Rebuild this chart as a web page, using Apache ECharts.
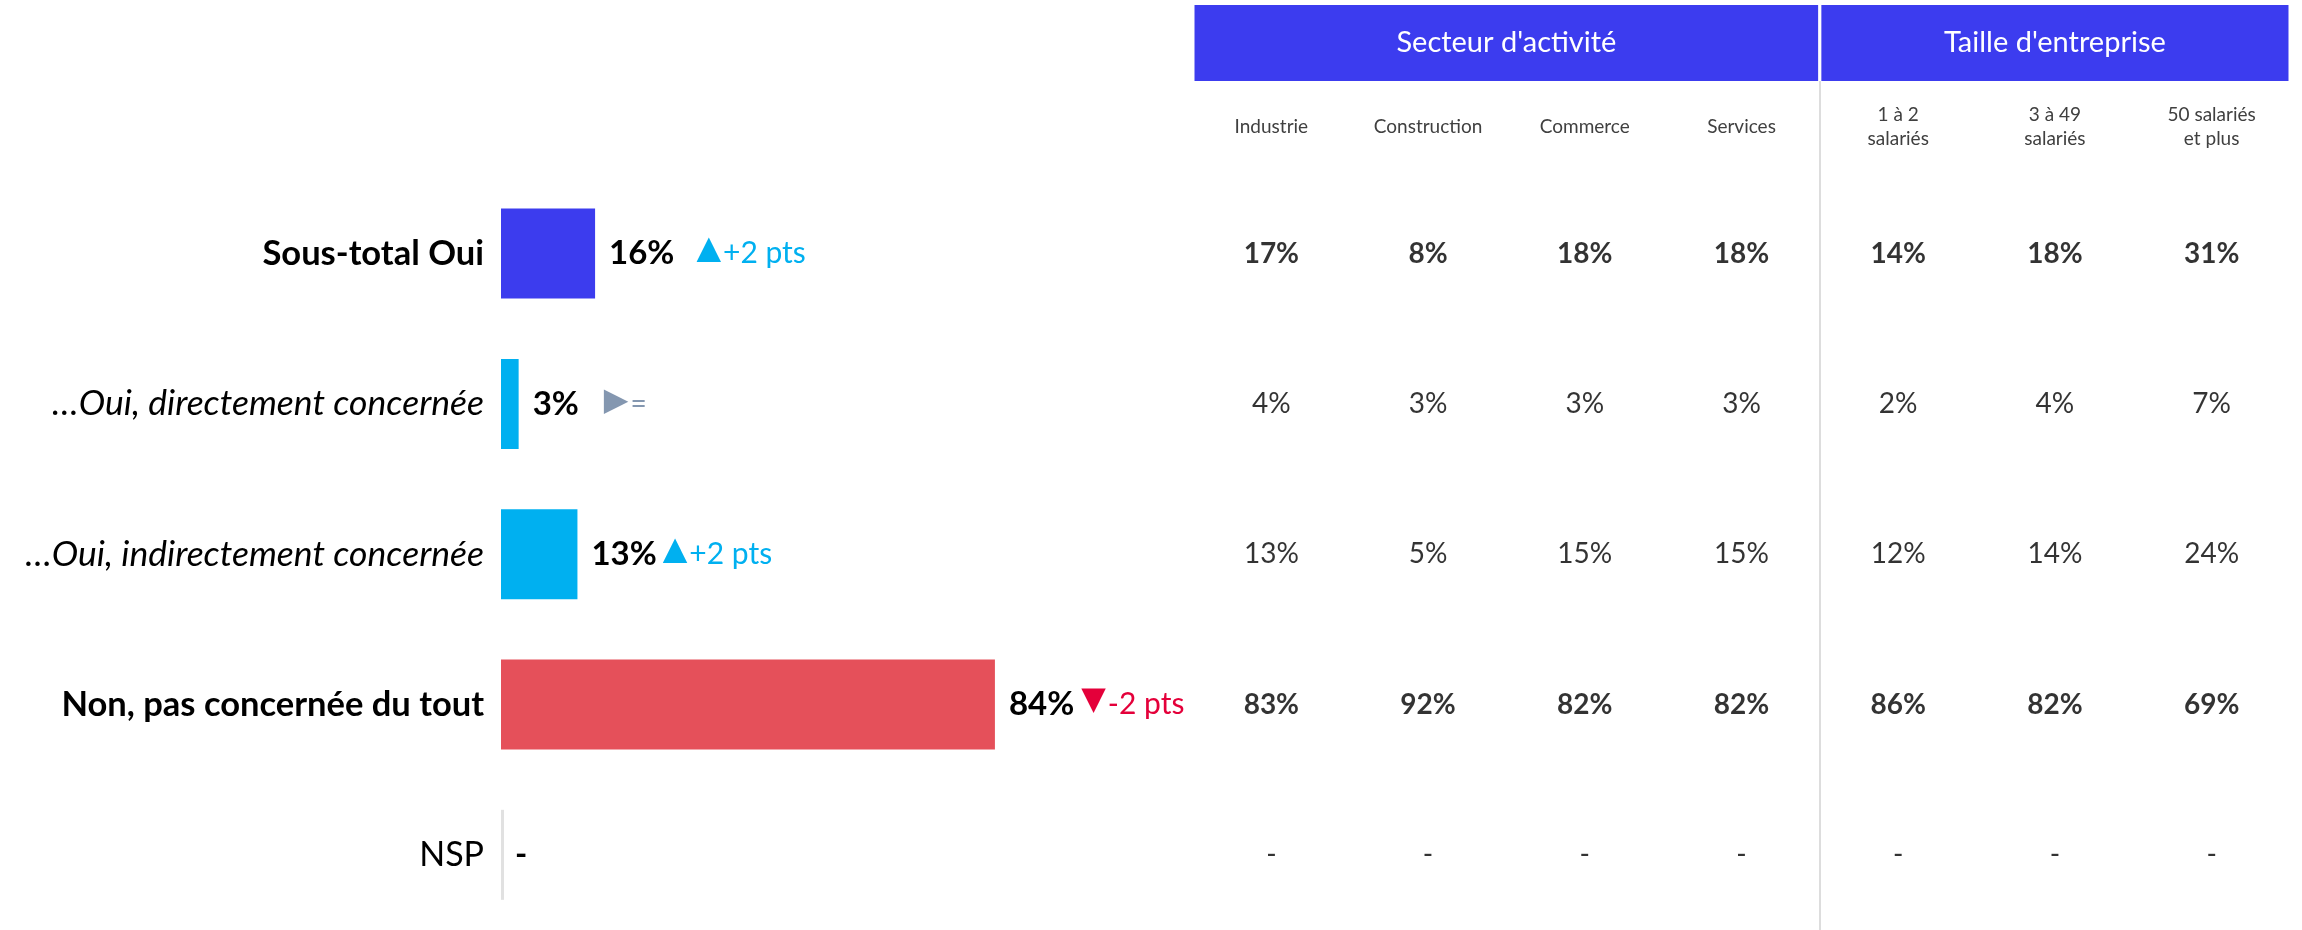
<!DOCTYPE html>
<html>
<head>
<meta charset="utf-8">
<script src="https://cdn.jsdelivr.net/npm/echarts@6/dist/echarts.min.js"></script>
<style>
    html, body { margin: 0; padding: 0; background: #fff; }
    #chart { width: 2302px; height: 930px; }
</style>
</head>
<body>
<div id="chart"></div>
<script>
// rows of the left bar chart
var rowLabels = ['Sous-total Oui', '…Oui, directement concernée', '…Oui, indirectement concernée', 'Non, pas concernée du tout', 'NSP'];
var totalValues = [16, 3, 13, 84, null];
var trendDir = ['up', 'flat', 'up', 'down', null];
var trendText = ['+2 pts', '=', '+2 pts', '-2 pts', ''];

// breakdown table
var groupNames = ["Secteur d'activité", "Taille d'entreprise"];
var groupSizes = [4, 3];
var columns = ['Industrie', 'Construction', 'Commerce', 'Services', '1 à 2\nsalariés', '3 à 49\nsalariés', '50 salariés\net plus'];
var sousTotalOui = [17, 8, 18, 18, 14, 18, 31];
var ouiDirect = [4, 3, 3, 3, 2, 4, 7];
var ouiIndirect = [13, 5, 15, 15, 12, 14, 24];
var nonPasDuTout = [83, 92, 82, 82, 86, 82, 69];
var nsp = [null, null, null, null, null, null, null];

// styling
var barColors = ['#3C3CEE', '#00B0F0', '#00B0F0', '#E5505A', '#D9D9D9'];
var rowStyle = ['b', 'i', 'i', 'b', 'n'];
var annotGap = [22, 25, 6, 7, 0];
var arrows = { up: '▲', down: '▼', flat: '▶' };
var FONT = 'Lato';

var tableRows = [sousTotalOui, ouiDirect, ouiIndirect, nonPasDuTout, nsp];

var gridTop = 178.4;
var gridHeight = 756;

var chart = echarts.init(document.getElementById('chart'));

var barRich = {
    v: { fontFamily: FONT, fontSize: 33, fontWeight: 'bold', color: '#000' },
    up: { fontFamily: 'DejaVu Sans', fontSize: 32, color: '#00B0F0', padding: [0, 0, 8, 0] },
    down: { fontFamily: 'DejaVu Sans', fontSize: 32, color: '#E4003A', padding: [0, 0, 8, 0] },
    flat: { fontFamily: 'DejaVu Sans', fontSize: 32, color: '#8497B0', padding: [0, 0, 4, 0] },
    tup: { fontFamily: FONT, fontSize: 30, color: '#00B0F0', padding: [0, 0, 0, 2] },
    tdown: { fontFamily: FONT, fontSize: 30, color: '#E4003A', padding: [0, 0, 0, 2] },
    tflat: { fontFamily: FONT, fontSize: 28, color: '#8497B0', padding: [0, 0, 0, 2] }
};
annotGap.forEach(function (w, i) {
    barRich['g' + i] = { width: w };
});

var barData = totalValues.map(function (v, i) {
    return { value: v == null ? 0 : v, itemStyle: { color: barColors[i] } };
});

// thin grey stub drawn where a row has no value
var emptyStub = [];
totalValues.forEach(function (v, i) {
    if (v == null) emptyStub.push([0, rowLabels[i]]);
});

var cells = [];
tableRows.forEach(function (row, r) {
    row.forEach(function (v, c) {
        cells.push({
            value: [c, r],
            label: {
                formatter: v == null ? '-' : v + '%',
                fontWeight: rowStyle[r] === 'b' ? 'bold' : 'normal'
            }
        });
    });
});

var bands = [];
var start = 0;
groupNames.forEach(function (name, i) {
    bands.push([{ name: name, xAxis: start }, { xAxis: start + groupSizes[i] }]);
    start += groupSizes[i];
});

var option = {
    animation: false,
    backgroundColor: '#fff',
    grid: [
        { left: 501, width: 588, top: gridTop, height: gridHeight },
        { left: 1193, right: 12, top: gridTop, height: gridHeight },
        { left: 1193, right: 12, top: 3.5, height: 79 },
        { left: 1193, right: 12, top: 81, bottom: 0 }
    ],
    xAxis: [
        { gridIndex: 0, type: 'value', min: 0, max: 100, show: false },
        {
            gridIndex: 1, type: 'category', data: columns, position: 'top',
            axisLine: { show: false }, axisTick: { show: false },
            axisLabel: {
                interval: 0, margin: 52, verticalAlign: 'middle',
                fontFamily: FONT, fontSize: 19, lineHeight: 24, color: '#404040'
            }
        },
        { gridIndex: 2, type: 'value', min: 0, max: 7, show: false },
        { gridIndex: 3, type: 'value', min: 0, max: 7, show: false }
    ],
    yAxis: [
        {
            gridIndex: 0, type: 'category', data: rowLabels, inverse: true,
            axisLine: { show: false }, axisTick: { show: false },
            axisLabel: {
                margin: 17,
                formatter: function (val, idx) {
                    return '{' + rowStyle[idx] + '|' + val + '}';
                },
                rich: {
                    b: { fontFamily: FONT, fontSize: 34.5, fontWeight: 'bold', color: '#000' },
                    i: { fontFamily: FONT, fontSize: 35.5, fontStyle: 'italic', color: '#000' },
                    n: { fontFamily: FONT, fontSize: 34, color: '#000' }
                }
            }
        },
        { gridIndex: 1, type: 'category', data: rowLabels, inverse: true, show: false },
        { gridIndex: 2, type: 'value', min: 0, max: 1, show: false },
        { gridIndex: 3, type: 'value', min: 0, max: 1, show: false }
    ],
    series: [
        {
            type: 'bar',
            xAxisIndex: 0, yAxisIndex: 0,
            barWidth: 90,
            silent: true,
            data: barData,
            label: {
                show: true,
                position: 'right',
                distance: 14,
                formatter: function (p) {
                    var i = p.dataIndex;
                    var v = totalValues[i];
                    var s = '{v|' + (v == null ? '-' : v + '%') + '}';
                    if (trendDir[i]) {
                        s += '{g' + i + '| }{' + trendDir[i] + '|' + arrows[trendDir[i]] + '}{t' + trendDir[i] + '|' + trendText[i] + '}';
                    }
                    return s;
                },
                rich: barRich
            }
        },
        {
            type: 'scatter',
            xAxisIndex: 0, yAxisIndex: 0,
            silent: true,
            symbol: 'rect',
            symbolSize: [3, 90],
            symbolOffset: [1.5, 0],
            itemStyle: { color: '#D9D9D9' },
            data: emptyStub
        },
        {
            type: 'scatter',
            xAxisIndex: 1, yAxisIndex: 1,
            silent: true,
            symbolSize: 1,
            itemStyle: { color: 'rgba(0,0,0,0)' },
            label: {
                show: true, position: 'inside',
                fontFamily: FONT, fontSize: 28, color: '#000'
            },
            data: cells
        },
        {
            type: 'scatter',
            xAxisIndex: 2, yAxisIndex: 2,
            silent: true,
            data: [],
            markArea: {
                silent: true,
                itemStyle: { color: '#3C3CEF', borderColor: '#fff', borderWidth: 3 },
                label: {
                    show: true, position: 'inside',
                    fontFamily: FONT, fontSize: 29, color: '#fff'
                },
                data: bands
            }
        },
        {
            type: 'scatter',
            xAxisIndex: 3, yAxisIndex: 3,
            silent: true,
            data: [],
            markLine: {
                silent: true,
                symbol: 'none',
                label: { show: false },
                lineStyle: { color: '#DDDDDD', width: 2, type: 'solid' },
                data: [{ xAxis: groupSizes[0] }]
            }
        }
    ]
};

chart.setOption(option);
</script>
</body>
</html>
